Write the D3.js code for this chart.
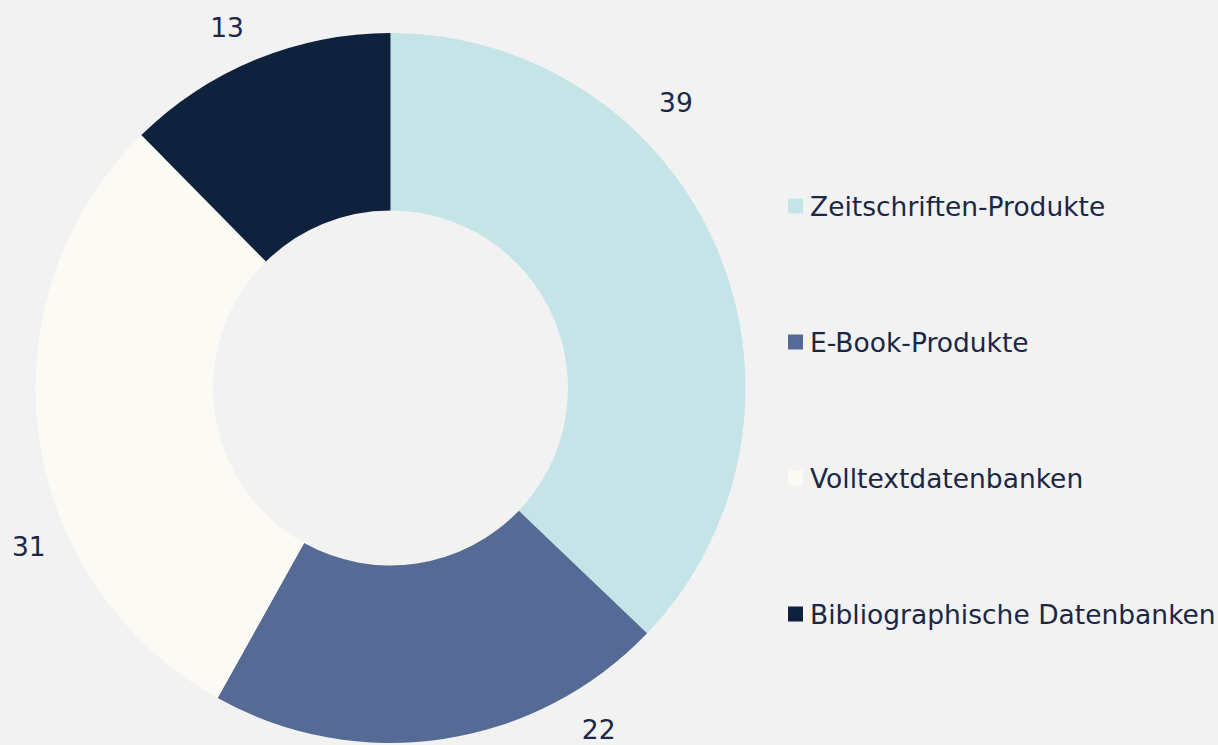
<!DOCTYPE html>
<html>
<head>
<meta charset="utf-8">
<script src="https://cdn.jsdelivr.net/npm/d3@7"></script>
<style>
  html, body { margin: 0; padding: 0; background: #F2F2F2; }
  svg { display: block; }
</style>
</head>
<body>
<svg id="chart" width="1218" height="745"></svg>
<script>
const categories = ["Zeitschriften-Produkte", "E-Book-Produkte", "Volltextdatenbanken", "Bibliographische Datenbanken"];
const values = [39, 22, 31, 13];
const colors = ["#C5E4E7", "#556B95", "#FCFAF5", "#0F223D"];

const W = 1218, H = 745;
const cx = 390.5, cy = 388, outerR = 355, innerR = 177.5;
const textColor = "#1B2744";
const fontFamily = "'DejaVu Sans', Verdana, sans-serif";
const fontSize = 26.5;

const svg = d3.select("#chart");
svg.append("rect").attr("width", W).attr("height", H).attr("fill", "#F2F2F2");

const pie = d3.pie().sort(null).value(d => d)(values);
const arc = d3.arc().innerRadius(innerR).outerRadius(outerR);

const g = svg.append("g").attr("transform", `translate(${cx},${cy})`);
g.selectAll("path.slice").data(pie).enter().append("path")
  .attr("class", "slice")
  .attr("d", arc)
  .attr("fill", (d, i) => colors[i]);

// data labels: placed outside the ring (layout shifts in degrees, radius)
const labelShift = [-21.9, -22.8, -16.0, -2.1];
const labelR = [404, 400, 395, 396];
g.selectAll("text.lbl").data(pie).enter().append("text")
  .attr("class", "lbl")
  .attr("x", (d, i) => {
    const a = (d.startAngle + d.endAngle) / 2 + labelShift[i] * Math.PI / 180;
    return labelR[i] * Math.sin(a);
  })
  .attr("y", (d, i) => {
    const a = (d.startAngle + d.endAngle) / 2 + labelShift[i] * Math.PI / 180;
    return -labelR[i] * Math.cos(a);
  })
  .attr("dy", "0.36em")
  .attr("text-anchor", "middle")
  .attr("font-family", fontFamily)
  .attr("font-size", fontSize)
  .attr("fill", textColor)
  .text(d => d.data);

// legend
const legendY = d3.scalePoint().domain(categories).range([206, 614]);
const lg = svg.append("g");
const items = lg.selectAll("g.item").data(categories).enter().append("g")
  .attr("class", "item")
  .attr("transform", d => `translate(788,${legendY(d)})`);
items.append("rect")
  .attr("x", 0).attr("y", -7.5).attr("width", 15).attr("height", 15)
  .attr("fill", (d, i) => colors[i]);
items.append("text")
  .attr("x", 22).attr("y", 0).attr("dy", "0.36em")
  .attr("font-family", fontFamily)
  .attr("font-size", fontSize)
  .attr("fill", textColor)
  .text(d => d);
</script>
</body>
</html>
